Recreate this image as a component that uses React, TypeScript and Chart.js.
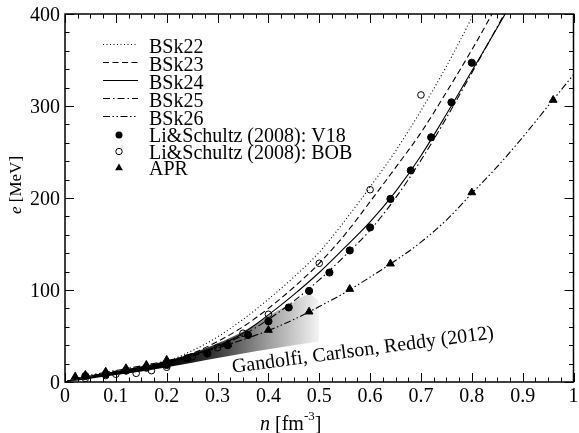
import React, { useEffect, useRef } from "react";
import { Chart, registerables } from "chart.js";

Chart.register(...registerables);

// ---- data ----
const curveN = [0, 0.02, 0.05, 0.1, 0.15, 0.2, 0.25, 0.3, 0.35, 0.4, 0.45, 0.5, 0.55, 0.6, 0.65, 0.7, 0.75, 0.8, 0.85, 0.9, 0.95, 1.0];
const bsk22 = [0, 3, 6.5, 11, 16, 22.5, 34, 49, 68, 90, 114, 141, 175, 212, 251, 295, 343, 396, 452, 510, 570, 630];
const bsk23 = [0, 3, 6.5, 11, 16, 22, 31, 44, 60, 80, 103, 129, 160, 196, 233, 271, 315, 361, 410, 460, 512, 565];
const bsk24 = [0, 3, 6.5, 11, 16, 21.5, 29, 39, 53, 73, 95, 119, 146, 174, 207, 246, 291, 338, 385, 433, 482, 532];
const bsk25 = [0, 3, 6.5, 11, 16, 21, 28, 38, 51, 68, 88, 111, 137, 165, 200, 241, 287, 336, 386, 436, 488, 540];
const bsk26 = [0, 3.5, 7.5, 12.5, 17.5, 23, 30, 37, 46, 56, 68, 82, 97, 114, 132, 152, 176, 205, 234, 266, 300, 334];

const v18N = [0.04, 0.08, 0.12, 0.16, 0.2, 0.24, 0.28, 0.32, 0.36, 0.4, 0.44, 0.48, 0.52, 0.56, 0.6, 0.64, 0.68, 0.72, 0.76, 0.8];
const v18E = [6.5, 8.4, 12.3, 15.6, 18.5, 25.7, 31, 40, 51, 66, 81, 99, 119, 143, 168, 199, 230, 266, 304, 347];

const bobN = [0.04, 0.08, 0.1, 0.14, 0.17, 0.2, 0.25, 0.3, 0.35, 0.4, 0.5, 0.6, 0.7];
const bobE = [4, 7, 8.4, 9.4, 12.3, 16, 27.5, 37.3, 53, 73.6, 129, 209, 312];

const aprN = [0.02, 0.04, 0.08, 0.12, 0.16, 0.2, 0.32, 0.4, 0.48, 0.56, 0.64, 0.8, 0.96];
const aprE = [5.8, 7.6, 11.2, 14.9, 18.5, 24, 41, 56.5, 76.4, 101, 128.6, 206, 306.5];

const bandN = [0, 0.05, 0.1, 0.15, 0.2, 0.25, 0.3, 0.35, 0.4, 0.45, 0.48, 0.5];
const bandLow = [0, 3.5, 7.5, 11.5, 16, 21, 26, 31, 35.5, 40, 42.5, 44];
const bandHigh = [0, 6, 11, 16.5, 23, 31, 42, 55, 72, 87, 95, 88];

const xTickValues = [0, 0.1, 0.2, 0.3, 0.4, 0.5, 0.6, 0.7, 0.8, 0.9, 1];
const xTickLabels = ["0", "0.1", "0.2", "0.3", "0.4", "0.5", "0.6", "0.7", "0.8", "0.9", "1"];
const yTickValues = [0, 100, 200, 300, 400];
const yTickLabels = ["0", "100", "200", "300", "400"];

const legendNames = ["BSk22", "BSk23", "BSk24", "BSk25", "BSk26", "Li&Schultz (2008): V18", "Li&Schultz (2008): BOB", "APR"];
const bandLabel = "Gandolfi, Carlson, Reddy (2012)";

const FONT = "'Liberation Serif', 'Times New Roman', serif";

const pts = (xs: number[], ys: number[]) => xs.map((v, i) => ({ x: v, y: ys[i] }));

const DOT = [1, 2.5];
const DASH = [6, 3.5];
const DASHDOT = [7, 3, 1.5, 3];
const DASHDOTDOT = [7, 2.5, 1.5, 2.5, 1.5, 2.5];

const curveStyles = [
  { data: bsk22, dash: DOT },
  { data: bsk23, dash: DASH },
  { data: bsk24, dash: [] as number[] },
  { data: bsk25, dash: DASHDOT },
  { data: bsk26, dash: DASHDOTDOT },
];

const decorPlugin = {
  id: "decor",
  afterDraw(chart: any) {
    const { ctx, chartArea: a, scales } = chart;
    const x = scales.x;
    const y = scales.y;
    ctx.save();
    ctx.setLineDash([]);
    ctx.strokeStyle = "#000";
    ctx.fillStyle = "#000";

    // ticks
    ctx.lineWidth = 1;
    ctx.beginPath();
    for (let i = 0; i <= 40; i++) {
      const px = Math.round(x.getPixelForValue(i * 0.025)) + 0.5;
      const len = i % 4 === 0 ? 9 : 4.5;
      ctx.moveTo(px, a.bottom);
      ctx.lineTo(px, a.bottom - len);
      ctx.moveTo(px, a.top);
      ctx.lineTo(px, a.top + len);
    }
    for (let i = 0; i <= 20; i++) {
      const py = Math.round(y.getPixelForValue(i * 20)) + 0.5;
      const len = i % 5 === 0 ? 9 : 4.5;
      ctx.moveTo(a.left, py);
      ctx.lineTo(a.left + len, py);
      ctx.moveTo(a.right, py);
      ctx.lineTo(a.right - len, py);
    }
    ctx.stroke();

    // frame
    ctx.lineWidth = 1.5;
    ctx.strokeRect(a.left, a.top, a.right - a.left, a.bottom - a.top);

    // tick labels
    ctx.font = `20px ${FONT}`;
    ctx.textAlign = "center";
    ctx.textBaseline = "alphabetic";
    xTickValues.forEach((v, i) => {
      ctx.fillText(xTickLabels[i], x.getPixelForValue(v), a.bottom + 20);
    });
    ctx.textAlign = "right";
    yTickValues.forEach((v, i) => {
      ctx.fillText(yTickLabels[i], a.left - 5, y.getPixelForValue(v) + 6.5);
    });

    // x axis title
    ctx.textAlign = "left";
    let tx = 260;
    const ty = 430;
    ctx.font = `italic 20px ${FONT}`;
    ctx.fillText("n", tx, ty);
    tx += ctx.measureText("n").width;
    ctx.font = `20px ${FONT}`;
    ctx.fillText(" [fm", tx, ty);
    tx += ctx.measureText(" [fm").width;
    ctx.font = `13px ${FONT}`;
    ctx.fillText("-3", tx, ty - 10);
    tx += ctx.measureText("-3").width;
    ctx.font = `20px ${FONT}`;
    ctx.fillText("]", tx, ty);

    // y axis title
    ctx.save();
    ctx.translate(21, 214);
    ctx.rotate(-Math.PI / 2);
    ctx.font = `italic 17px ${FONT}`;
    ctx.fillText("e", 0, 0);
    const ew = ctx.measureText("e").width;
    ctx.font = `17px ${FONT}`;
    ctx.fillText(" [MeV]", ew, 0);
    ctx.restore();

    // legend
    const baselines = [53, 71, 89, 107, 125, 142, 158.5, 175];
    const lx0 = 103;
    const lx1 = 138;
    const mx = 119;
    ctx.font = `20px ${FONT}`;
    ctx.textAlign = "left";
    legendNames.forEach((name, i) => {
      const b = baselines[i];
      if (i < 5) {
        const ly = Math.round(b - 9) + 0.5;
        ctx.lineWidth = 1;
        ctx.setLineDash(curveStyles[i].dash);
        ctx.beginPath();
        ctx.moveTo(lx0, ly);
        ctx.lineTo(lx1, ly);
        ctx.stroke();
        ctx.setLineDash([]);
      } else if (i === 5) {
        ctx.beginPath();
        ctx.arc(mx, b - 7, 3.5, 0, Math.PI * 2);
        ctx.fill();
      } else if (i === 6) {
        ctx.lineWidth = 1;
        ctx.beginPath();
        ctx.arc(mx, b - 7, 3.2, 0, Math.PI * 2);
        ctx.stroke();
      } else {
        const cy = b - 7;
        const r = 4.5;
        ctx.beginPath();
        ctx.moveTo(mx, cy - r);
        ctx.lineTo(mx + r * Math.sin((2 * Math.PI) / 3), cy - r * Math.cos((2 * Math.PI) / 3));
        ctx.lineTo(mx + r * Math.sin((4 * Math.PI) / 3), cy - r * Math.cos((4 * Math.PI) / 3));
        ctx.closePath();
        ctx.fill();
      }
      ctx.fillText(name, 149, b);
    });

    // band annotation
    ctx.save();
    ctx.translate(x.getPixelForValue(0.33), y.getPixelForValue(10));
    ctx.rotate((-7.5 * Math.PI) / 180);
    ctx.font = `20px ${FONT}`;
    ctx.textAlign = "left";
    ctx.fillText(bandLabel, 0, 0);
    ctx.restore();

    ctx.restore();
  },
};

export default function App() {
  const ref = useRef<HTMLCanvasElement>(null);

  useEffect(() => {
    if (!ref.current) return;
    const bandFill = (c: any) => {
      const chart = c.chart;
      const { ctx, chartArea, scales } = chart;
      if (!chartArea || !scales.x) return "rgba(0,0,0,0)";
      const x0 = scales.x.getPixelForValue(0.2);
      const x1 = scales.x.getPixelForValue(0.5);
      const g = ctx.createLinearGradient(x0, 0, x1, 0);
      g.addColorStop(0, "#000000");
      g.addColorStop(0.33, "#3a3a3a");
      g.addColorStop(0.66, "#9c9c9c");
      g.addColorStop(1, "#f4f4f4");
      return g;
    };

    const datasets: any[] = [
      {
        label: "bandLow",
        data: pts(bandN, bandLow),
        borderWidth: 0,
        pointRadius: 0,
        fill: false,
        order: 3,
        cubicInterpolationMode: "monotone",
      },
      {
        label: "bandHigh",
        data: pts(bandN, bandHigh),
        borderWidth: 0,
        borderColor: "rgba(0,0,0,0)",
        pointRadius: 0,
        fill: "-1",
        backgroundColor: bandFill,
        order: 3,
        cubicInterpolationMode: "monotone",
      },
      ...curveStyles.map((s, i) => ({
        label: legendNames[i],
        data: pts(curveN, s.data),
        borderColor: "#000",
        borderWidth: 1.1,
        borderDash: s.dash,
        pointRadius: 0,
        fill: false,
        order: 2,
        cubicInterpolationMode: "monotone",
      })),
      {
        label: legendNames[5],
        data: pts(v18N, v18E),
        showLine: false,
        pointStyle: "circle",
        pointRadius: 3.6,
        pointBackgroundColor: "#000",
        pointBorderColor: "#000",
        pointBorderWidth: 1,
        order: 1,
      },
      {
        label: legendNames[6],
        data: pts(bobN, bobE),
        showLine: false,
        pointStyle: "circle",
        pointRadius: 3.3,
        pointBackgroundColor: "rgba(0,0,0,0)",
        pointBorderColor: "#000",
        pointBorderWidth: 1,
        order: 1,
      },
      {
        label: legendNames[7],
        data: pts(aprN, aprE),
        showLine: false,
        pointStyle: "triangle",
        pointRadius: 4.5,
        pointBackgroundColor: "#000",
        pointBorderColor: "#000",
        pointBorderWidth: 1,
        order: 1,
      },
    ];

    const chart = new Chart(ref.current, {
      type: "line",
      data: { datasets },
      options: {
        animation: false,
        responsive: false,
        devicePixelRatio: 1,
        layout: { padding: { left: 65, top: 14, right: 4, bottom: 51 } },
        scales: {
          x: { type: "linear", min: 0, max: 1, display: false },
          y: { type: "linear", min: 0, max: 400, display: false },
        },
        plugins: {
          legend: { display: false },
          tooltip: { enabled: false },
        },
        elements: { line: { tension: 0 } },
      },
      plugins: [decorPlugin],
    } as any);
    return () => chart.destroy();
  }, []);

  return (
    <div style={{ position: "absolute", left: 0, top: 0, width: 579, height: 433, background: "#fff" }}>
      <canvas ref={ref} width={579} height={433} style={{ display: "block", width: 579, height: 433 }} />
    </div>
  );
}
